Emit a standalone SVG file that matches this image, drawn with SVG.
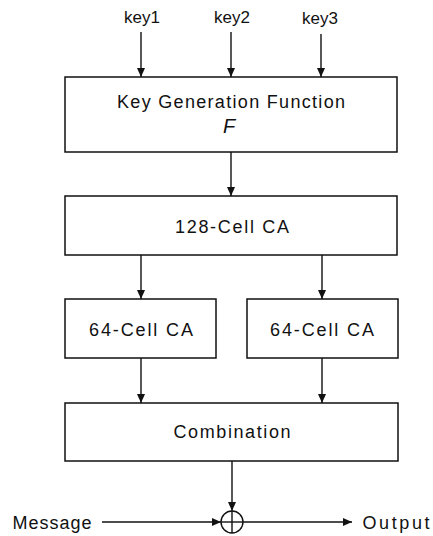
<svg xmlns="http://www.w3.org/2000/svg" width="433" height="536" viewBox="0 0 433 536">
<style>
.box{fill:#fff;stroke:#111;stroke-width:1.5}
.t{font-family:"Liberation Sans",Arial,sans-serif;font-size:18px;fill:#111;text-anchor:middle}
.k{font-size:17px}
.c{stroke:#111;stroke-width:1.4;fill:none}
</style>
<defs>
<marker id="ah" markerWidth="10" markerHeight="10" refX="9" refY="5" orient="auto" markerUnits="userSpaceOnUse">
<path d="M0,1 L9,5 L0,9 Z" fill="#111"/>
</marker>
</defs>
<rect width="433" height="536" fill="#fff"/>
<g id="key1"><text class="t k" x="142" y="23">key1</text></g>
<g id="key2"><text class="t k" x="232" y="23">key2</text></g>
<g id="key3"><text class="t k" x="320" y="24">key3</text></g>
<g id="keygen">
<rect class="box" x="65" y="77" width="332" height="75"/>
<text class="t" x="231" y="108" textLength="228" lengthAdjust="spacing">Key Generation Function</text>
<text class="t" x="229" y="133" style="font-size:20px;font-style:italic">F</text>
</g>
<g id="ca128">
<rect class="box" x="65" y="196" width="332" height="59"/>
<text class="t" x="232" y="233" textLength="114" lengthAdjust="spacing">128-Cell CA</text>
</g>
<g id="ca64a">
<rect class="box" x="65" y="299" width="151" height="59"/>
<text class="t" x="141" y="336" textLength="104" lengthAdjust="spacing">64-Cell CA</text>
</g>
<g id="ca64b">
<rect class="box" x="247" y="299" width="151" height="59"/>
<text class="t" x="322" y="336" textLength="104" lengthAdjust="spacing">64-Cell CA</text>
</g>
<g id="combination">
<rect class="box" x="65" y="403" width="333" height="58"/>
<text class="t" x="232" y="438" textLength="117" lengthAdjust="spacing">Combination</text>
</g>
<g id="xor">
<circle cx="232" cy="522" r="11" fill="#fff" stroke="#111" stroke-width="1.4"/>
<line class="c" x1="221" y1="522" x2="243" y2="522"/>
<line class="c" x1="232" y1="511" x2="232" y2="533"/>
</g>
<g id="message"><text class="t" x="52" y="529" textLength="79" lengthAdjust="spacing">Message</text></g>
<g id="output"><text class="t" x="396" y="529" textLength="67" lengthAdjust="spacing">Output</text></g>
<g id="connectors">
<line class="c" x1="141" y1="32" x2="141" y2="77" marker-end="url(#ah)"/>
<line class="c" x1="231" y1="32" x2="231" y2="77" marker-end="url(#ah)"/>
<line class="c" x1="321" y1="34" x2="321" y2="77" marker-end="url(#ah)"/>
<line class="c" x1="231" y1="152" x2="231" y2="196" marker-end="url(#ah)"/>
<line class="c" x1="141" y1="255" x2="141" y2="299" marker-end="url(#ah)"/>
<line class="c" x1="322" y1="255" x2="322" y2="299" marker-end="url(#ah)"/>
<line class="c" x1="141" y1="358" x2="141" y2="403" marker-end="url(#ah)"/>
<line class="c" x1="322" y1="358" x2="322" y2="403" marker-end="url(#ah)"/>
<line class="c" x1="232" y1="461" x2="232" y2="511" marker-end="url(#ah)"/>
<line class="c" x1="102" y1="522" x2="221" y2="522" marker-end="url(#ah)"/>
<line class="c" x1="243" y1="522" x2="352" y2="522" marker-end="url(#ah)"/>
</g>
</svg>
